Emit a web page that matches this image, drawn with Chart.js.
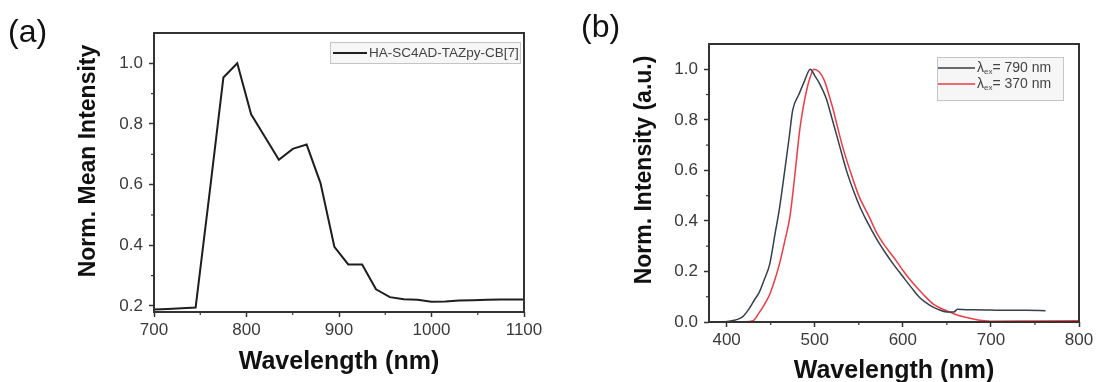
<!DOCTYPE html>
<html><head><meta charset="utf-8">
<script src="https://cdn.jsdelivr.net/npm/chart.js@4.4.0/dist/chart.umd.min.js"></script>
<style>
html,body{margin:0;padding:0;background:#fff;}
#wrap{position:relative;width:1098px;height:382px;overflow:hidden;background:#fff;}
canvas{position:absolute;top:0;}
</style></head><body>
<div id="wrap">
<canvas id="ca" width="549" height="382" style="left:0"></canvas>
<canvas id="cb" width="549" height="382" style="left:549px"></canvas>
</div>
<script>
// ---------- Panel (a) data ----------
const wavelengthA = [700,715,730,745,760,775,790,805,820,835,850,865,880,895,910,925,940,955,970,985,1000,1015,1030,1045,1060,1075,1090,1105];
const intensityA  = [0.188,0.190,0.192,0.195,0.570,0.953,1.000,0.832,0.757,0.682,0.718,0.732,0.605,0.395,0.337,0.337,0.255,0.229,0.222,0.220,0.214,0.215,0.218,0.219,0.220,0.221,0.221,0.221];
const xMajorA = [700,800,900,1000,1100];
const xMinorA = [750,850,950,1050];
const yMajorA = [0.2,0.4,0.6,0.8,1.0];
const yMinorA = [0.3,0.5,0.7,0.9];

// ---------- Panel (b) data ----------
const wavelengthB790 = [380,390,400,410,418,425,432,437,443,449,455,460,466,471,475,482,488,495,500,506,513,520,528,536,545,552,559,570,580,589,600,610,619,630,640,650,658,662,680,700,720,740,762];
const intensityB790  = [0,0,0.002,0.008,0.02,0.05,0.09,0.117,0.17,0.23,0.35,0.45,0.6,0.73,0.838,0.9,0.95,1.0,0.975,0.94,0.885,0.80,0.70,0.60,0.51,0.45,0.40,0.33,0.275,0.23,0.18,0.135,0.097,0.068,0.05,0.04,0.04,0.05,0.048,0.047,0.046,0.046,0.045];
const wavelengthB370 = [380,400,420,430,437,443,449,455,460,466,472,478,483,487,491,495,499,505,511,516,521,526,532,540,550,562,570,580,593,600,610,623,635,650,660,670,680,690,700,750,800];
const intensityB370  = [0,0,0.001,0.005,0.037,0.07,0.11,0.17,0.23,0.32,0.42,0.6,0.76,0.85,0.92,0.97,1.0,0.99,0.955,0.90,0.84,0.77,0.69,0.60,0.50,0.415,0.355,0.3,0.24,0.205,0.16,0.11,0.07,0.044,0.03,0.02,0.012,0.006,0.003,0.004,0.005];
const xMajorB = [400,500,600,700,800];
const xMinorB = [450,550,650,750];
const yMajorB = [0.0,0.2,0.4,0.6,0.8,1.0];
const yMinorB = [0.1,0.3,0.5,0.7,0.9];

const FONT = '"Liberation Sans", Arial, Helvetica, sans-serif';
const AXIS = '#333333';

const decor = {
  id: 'decor',
  afterDraw(chart, args, o) {
    const {ctx, chartArea: a} = chart;
    const sx = chart.scales.x, sy = chart.scales.y;
    ctx.save();
    // minor ticks
    ctx.strokeStyle = AXIS; ctx.lineWidth = 1.2;
    o.minorX.forEach(v => { const p = sx.getPixelForValue(v); ctx.beginPath(); ctx.moveTo(p, a.bottom); ctx.lineTo(p, a.bottom + 3); ctx.stroke(); });
    o.minorY.forEach(v => { const p = sy.getPixelForValue(v); ctx.beginPath(); ctx.moveTo(a.left, p); ctx.lineTo(a.left - 3, p); ctx.stroke(); });
    // frame
    ctx.lineWidth = 2; ctx.strokeStyle = AXIS;
    ctx.strokeRect(a.left, a.top, a.right - a.left, a.bottom - a.top);
    // panel label
    ctx.fillStyle = '#111';
    ctx.textBaseline = 'middle'; ctx.textAlign = 'left';
    ctx.font = '32px ' + FONT;
    ctx.fillText(o.panel, o.panelX, o.panelY);
    // x title
    ctx.font = 'bold 25px ' + FONT; ctx.textAlign = 'center';
    ctx.fillText(o.xTitle, (a.left + a.right) / 2, o.xTitleY);
    // y title
    ctx.save();
    ctx.translate(o.yTitleX, o.yTitleY); ctx.rotate(-Math.PI / 2);
    ctx.font = 'bold ' + o.yTitleSize + 'px ' + FONT;
    ctx.fillText(o.yTitle, 0, 0);
    ctx.restore();
    // legend
    const L = o.legend;
    ctx.fillStyle = 'rgba(244,244,244,0.85)';
    ctx.fillRect(L.x, L.y, L.w, L.h);
    ctx.strokeStyle = '#c4c4c4'; ctx.lineWidth = 1;
    ctx.strokeRect(L.x + 0.5, L.y + 0.5, L.w - 1, L.h - 1);
    chart.data.datasets.forEach((ds, i) => {
      const yy = L.rowY[i];
      ctx.strokeStyle = ds.borderColor; ctx.lineWidth = ds.borderWidth;
      ctx.beginPath(); ctx.moveTo(L.lineX0, yy); ctx.lineTo(L.lineX1, yy); ctx.stroke();
      ctx.fillStyle = '#444'; ctx.textAlign = 'left'; ctx.textBaseline = 'middle';
      let tx = L.textX;
      const label = ds.label;
      if (label.startsWith('λex')) {
        ctx.font = L.font + 'px ' + FONT;
        ctx.fillText('λ', tx, yy); tx += ctx.measureText('λ').width;
        ctx.font = Math.round(L.font * 0.6) + 'px ' + FONT;
        ctx.fillText('ex', tx, yy + 4); tx += ctx.measureText('ex').width;
        ctx.font = L.font + 'px ' + FONT;
        ctx.fillText(label.slice(3), tx, yy);
      } else {
        ctx.font = L.font + 'px ' + FONT;
        ctx.fillText(label, tx, yy);
      }
    });
    ctx.restore();
  }
};

function makeScales(xMin, xMax, xMajor, yMin, yMax, yMajor, yWidth, xHeight) {
  return {
    x: {
      type: 'linear', min: xMin, max: xMax,
      afterBuildTicks: s => { s.ticks = xMajor.map(v => ({value: v})); },
      afterFit: s => { s.height = xHeight; },
      grid: {drawOnChartArea: false, drawTicks: true, tickLength: 5, tickColor: AXIS, tickWidth: 1.5},
      border: {display: false},
      ticks: {autoSkip: false, maxRotation: 0, padding: 3, color: '#3a3a3a', font: {family: FONT, size: 17},
              callback: v => String(v)}
    },
    y: {
      type: 'linear', min: yMin, max: yMax,
      afterBuildTicks: s => { s.ticks = yMajor.map(v => ({value: v})); },
      afterFit: s => { s.width = yWidth; },
      grid: {drawOnChartArea: false, drawTicks: true, tickLength: 5, tickColor: AXIS, tickWidth: 1.5},
      border: {display: false},
      ticks: {autoSkip: false, padding: 6, color: '#3a3a3a', font: {family: FONT, size: 17},
              callback: v => Number(v).toFixed(1)}
    }
  };
}

const common = {
  responsive: false, animation: false, devicePixelRatio: 1,
  elements: {point: {radius: 0}},
};

new Chart(document.getElementById('ca'), {
  type: 'line',
  data: {datasets: [{
    label: 'HA-SC4AD-TAZpy-CB[7]',
    data: wavelengthA.map((x, i) => ({x, y: intensityA[i]})),
    borderColor: '#1e1e1e', borderWidth: 2, tension: 0, fill: false, pointRadius: 0
  }]},
  options: Object.assign({}, common, {
    layout: {padding: {left: 0, top: 33, right: 25, bottom: 0}},
    scales: makeScales(700, 1100, xMajorA, 0.18, 1.1, yMajorA, 154, 70),
    plugins: {
      legend: {display: false}, tooltip: {enabled: false},
      decor: {
        minorX: xMinorA, minorY: yMinorA,
        panel: '(a)', panelX: 8, panelY: 33,
        xTitle: 'Wavelength (nm)', xTitleY: 362,
        yTitle: 'Norm. Mean Intensity', yTitleX: 89, yTitleY: 161, yTitleSize: 23,
        legend: {x: 330, y: 42, w: 191, h: 22, rowY: [53], lineX0: 333, lineX1: 367, textX: 369, font: 13.5}
      }
    }
  }),
  plugins: [decor]
});

new Chart(document.getElementById('cb'), {
  type: 'line',
  data: {datasets: [
    {label: 'λex= 790 nm', data: wavelengthB790.map((x, i) => ({x, y: intensityB790[i]})),
     borderColor: '#34404a', borderWidth: 1.5, cubicInterpolationMode: 'monotone', fill: false, pointRadius: 0},
    {label: 'λex= 370 nm', data: wavelengthB370.map((x, i) => ({x, y: intensityB370[i]})),
     borderColor: '#ee3b45', borderWidth: 1.5, cubicInterpolationMode: 'monotone', fill: false, pointRadius: 0}
  ]},
  options: Object.assign({}, common, {
    layout: {padding: {left: 0, top: 44, right: 19, bottom: 0}},
    scales: makeScales(380, 800, xMajorB, 0, 1.1, yMajorB, 160, 60),
    plugins: {
      legend: {display: false}, tooltip: {enabled: false},
      decor: {
        minorX: xMinorB, minorY: yMinorB,
        panel: '(b)', panelX: 32, panelY: 28,
        xTitle: 'Wavelength (nm)', xTitleY: 371,
        yTitle: 'Norm. Intensity (a.u.)', yTitleX: 96, yTitleY: 170, yTitleSize: 23,
        legend: {x: 388, y: 57, w: 127, h: 44, rowY: [68, 84], lineX0: 389, lineX1: 426, textX: 428, font: 14}
      }
    }
  }),
  plugins: [decor]
});
</script>
</body></html>
